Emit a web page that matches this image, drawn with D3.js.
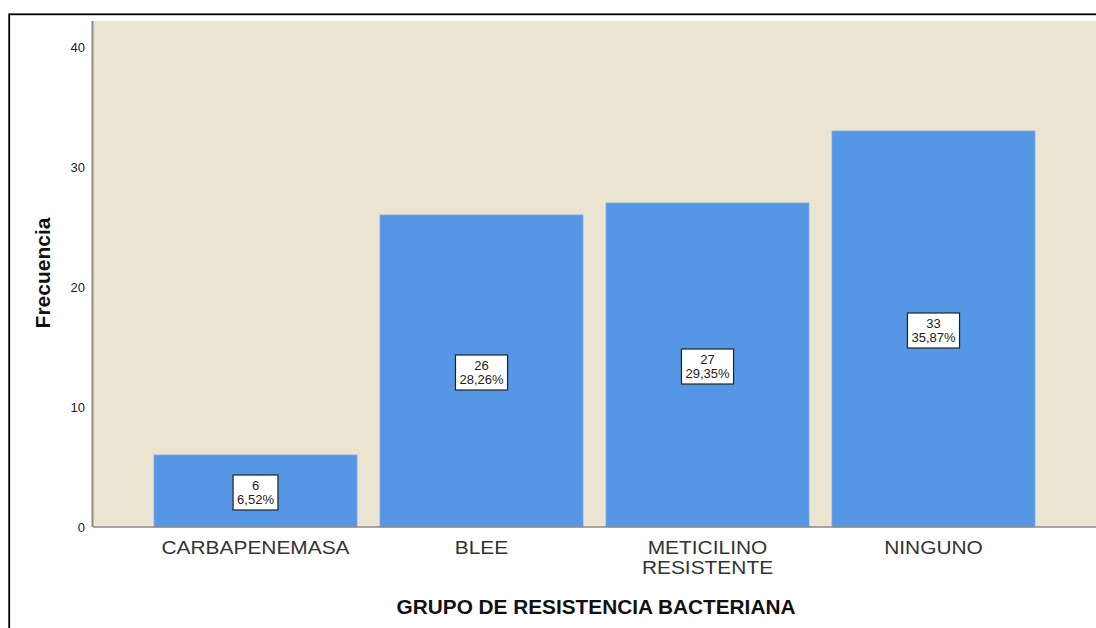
<!DOCTYPE html>
<html>
<head>
<meta charset="utf-8">
<script src="https://cdn.jsdelivr.net/npm/d3@7"></script>
<style>
  body { margin: 0; background: #fff; }
  svg { display: block; font-family: Arial, "Liberation Sans", sans-serif; }
</style>
</head>
<body>
<svg id="chart"></svg>
<script>
var categories = ['CARBAPENEMASA', 'BLEE', 'METICILINO RESISTENTE', 'NINGUNO'];
var catLines = [['CARBAPENEMASA'], ['BLEE'], ['METICILINO', 'RESISTENTE'], ['NINGUNO']];
var counts = [6, 26, 27, 33];
var percents = ['6,52%', '28,26%', '29,35%', '35,87%'];
var yTicks = [0, 10, 20, 30, 40];

var width = 1096;
var height = 628;

var plotLeft = 93, plotRight = 1096, plotTop = 21, plotBottom = 527;

var svg = d3.select('#chart').attr('width', width).attr('height', height);

// outer frame (cropped at right / bottom)
svg.append('rect')
  .attr('x', 9.2).attr('y', 14.3)
  .attr('width', 1200).attr('height', 700)
  .attr('fill', 'none').attr('stroke', '#000').attr('stroke-width', 1.8);

var y = d3.scaleLinear().domain([0, 40]).range([plotBottom, plotBottom - 480]);

var x = d3.scaleBand()
  .domain(categories)
  .range([plotLeft, plotRight])
  .paddingInner(0.1018)
  .paddingOuter(0.27);

// plot background
svg.append('rect')
  .attr('x', plotLeft).attr('y', plotTop)
  .attr('width', plotRight - plotLeft).attr('height', plotBottom - plotTop)
  .attr('fill', '#EAE4D0');

// bars
svg.selectAll('.bar')
  .data(counts)
  .enter()
  .append('rect')
  .attr('class', 'bar')
  .attr('x', function(d, i) { return x(categories[i]); })
  .attr('y', function(d) { return y(d); })
  .attr('width', x.bandwidth())
  .attr('height', function(d) { return y(0) - y(d); })
  .attr('fill', '#5596E5')
  .attr('stroke', '#7AABE6')
  .attr('stroke-width', 0.8);

// axes lines
svg.append('line')
  .attr('x1', plotLeft - 0.5).attr('x2', plotLeft - 0.5)
  .attr('y1', plotTop).attr('y2', plotBottom)
  .attr('stroke', '#8a8a8a').attr('stroke-width', 2);
svg.append('line')
  .attr('x1', plotLeft).attr('x2', plotRight)
  .attr('y1', plotBottom).attr('y2', plotBottom)
  .attr('stroke', '#8a8a8a').attr('stroke-width', 1.5);

// y ticks
var yAxis = d3.axisLeft(y).tickValues(yTicks).tickSize(0).tickPadding(8);
var yg = svg.append('g').attr('transform', 'translate(' + plotLeft + ',0)').call(yAxis);
yg.select('.domain').remove();
yg.selectAll('text').attr('font-size', 13).attr('fill', '#222')
  .attr('font-family', 'Arial, "Liberation Sans", sans-serif');

// category labels (slightly stretched like the source font)
var catG = svg.selectAll('.cat')
  .data(catLines)
  .enter()
  .append('g')
  .attr('class', 'cat')
  .attr('transform', function(d, i) {
    return 'translate(' + (x(categories[i]) + x.bandwidth() / 2) + ',554) scale(1.1,1)';
  });
catG.each(function(lines) {
  var g = d3.select(this);
  lines.forEach(function(t, j) {
    g.append('text')
      .attr('text-anchor', 'middle')
      .attr('y', j * 20)
      .attr('font-size', 19)
      .attr('fill', '#333')
      .text(t);
  });
});

// value boxes
var boxes = svg.selectAll('.lbl')
  .data(counts)
  .enter()
  .append('g')
  .attr('class', 'lbl')
  .attr('transform', function(d, i) {
    return 'translate(' + (x(categories[i]) + x.bandwidth() / 2) + ',' + (y(d / 2) + 1.5) + ')';
  });
boxes.each(function(d, i) {
  var g = d3.select(this);
  var rect = g.append('rect');
  var t1 = g.append('text').attr('text-anchor', 'middle').attr('y', -2.5)
    .attr('font-size', 13).attr('fill', '#222').text(d);
  var t2 = g.append('text').attr('text-anchor', 'middle').attr('y', 11.5)
    .attr('font-size', 13).attr('fill', '#222').text(percents[i]);
  var w = Math.max(t1.node().getComputedTextLength(), t2.node().getComputedTextLength()) + 8;
  rect.attr('x', -w / 2).attr('y', -17.5)
    .attr('width', w).attr('height', 35)
    .attr('fill', '#fff').attr('stroke', '#222').attr('stroke-width', 1.2);
});

// axis titles
svg.append('text')
  .attr('transform', 'translate(50,273) rotate(-90)')
  .attr('text-anchor', 'middle')
  .attr('font-size', 21).attr('font-weight', 'bold').attr('fill', '#111')
  .text('Frecuencia');

svg.append('text')
  .attr('transform', 'translate(596,614) scale(1.04,1)')
  .attr('text-anchor', 'middle')
  .attr('font-size', 20).attr('font-weight', 'bold').attr('fill', '#111')
  .text('GRUPO DE RESISTENCIA BACTERIANA');
</script>
</body>
</html>
